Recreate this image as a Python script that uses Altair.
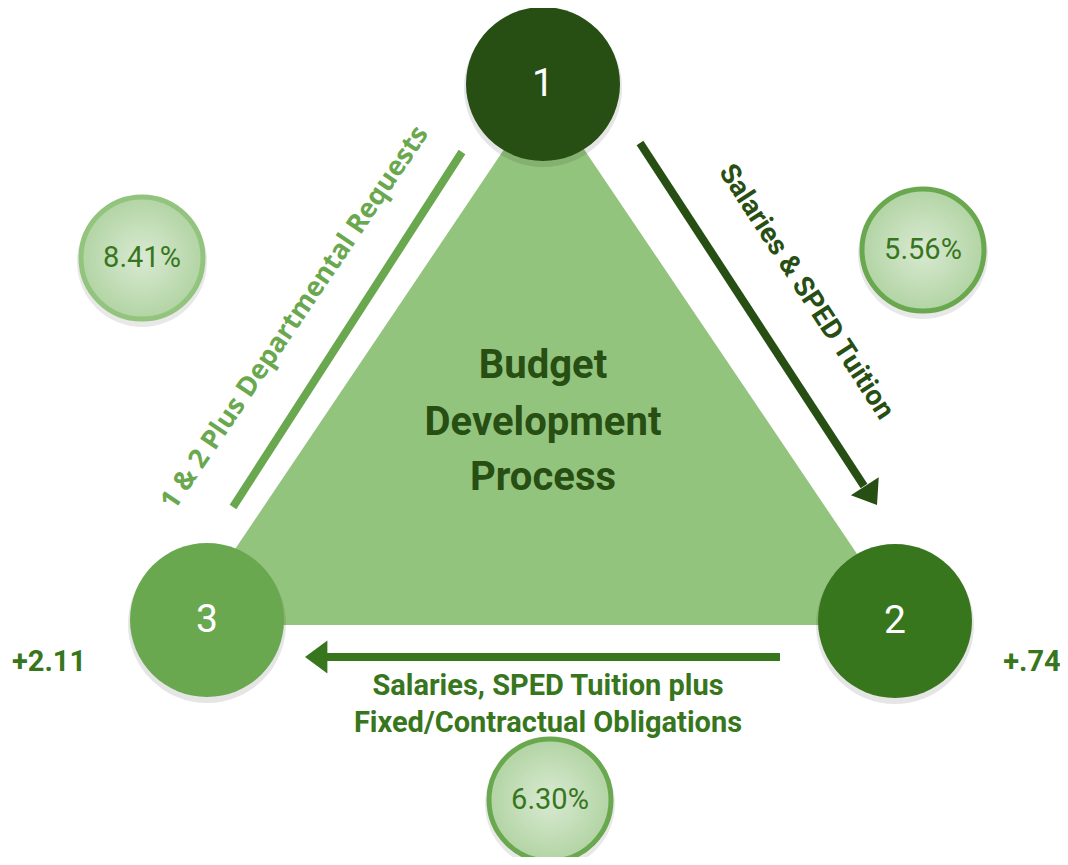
import altair as alt
import pandas as pd

# ---------------- content ----------------
node_labels = ["1", "2", "3"]
pct_labels = ["8.41%", "5.56%", "6.30%"]
delta_labels = ["+2.11", "+.74"]
title_lines = ["Budget", "Development", "Process"]
edge_12_label = "Salaries & SPED Tuition"
edge_23_lines = ["Salaries, SPED Tuition plus", "Fixed/Contractual Obligations"]
edge_31_label = "1 & 2 Plus Departmental Requests"

# ---------------- layout (page pixel coordinates) ----------------
node_x = [543, 895, 207]
node_y = [84, 621, 620]
node_colors = ["#274E13", "#38761D", "#6AA84F"]

pct_x = [142, 923, 550]
pct_y = [258, 250, 800]
pct_border = ["#93C47D", "#6AA84F", "#6AA84F"]

delta_x = [49, 1032]
delta_y = [662, 662]

tri_x = [184, 544, 905]
tri_y = [625, 90, 625]
tri_base = 625

title_x = 543
title_y = [378, 435, 490]

edge23_x = 548
edge23_y = [695, 732]

# lines: x, y, x2, y2, color
line_x = [462, 640, 780]
line_y = [152, 143, 657]
line_x2 = [233, 864, 325]
line_y2 = [507, 486, 657]
line_colors = ["#6AA84F", "#274E13", "#38761D"]

head_x = [877, 305]
head_y = [505, 657]
head_angle = [147, 270]
head_colors = ["#274E13", "#38761D"]

W, H = 1052, 849
xs = alt.Scale(domain=[8, 1060], nice=False, zero=False)
ys = alt.Scale(domain=[857, 8], nice=False, zero=False)

NODE_R = 77
PCT_R = 61


def X(f="x"):
    return alt.X(f"{f}:Q", scale=xs, axis=None)


def Y(f="y"):
    return alt.Y(f"{f}:Q", scale=ys, axis=None)


tri_df = pd.DataFrame({"x": tri_x, "y": tri_y, "y2": [tri_base] * 3})
triangle = alt.Chart(tri_df).mark_area(color="#93C47D", opacity=1, interpolate="linear").encode(
    x=X(), y=Y(), y2="y2:Q"
)

line_df = pd.DataFrame({"x": line_x, "y": line_y, "x2": line_x2, "y2": line_y2, "c": line_colors})
lines = alt.Chart(line_df).mark_rule(strokeWidth=8, strokeCap="butt").encode(
    x=X(), y=Y(), x2="x2:Q", y2="y2:Q", color=alt.Color("c:N", scale=None)
)

head_df = pd.DataFrame({"x": head_x, "y": head_y, "a": head_angle, "c": head_colors})
heads = alt.Chart(head_df).mark_point(
    shape="M0,0 L1,1.35 L-1,1.35 Z", filled=True, size=1100, opacity=1
).encode(
    x=X(), y=Y(), angle=alt.Angle("a:Q", scale=None), color=alt.Color("c:N", scale=None)
)

node_df = pd.DataFrame({"x": node_x, "y": node_y, "c": node_colors, "t": node_labels})
shadow_df = node_df.assign(y=[v + 4 for v in node_y])
node_shadow = alt.Chart(shadow_df).mark_circle(
    size=(2 * NODE_R + 4) ** 2, opacity=0.10, color="#000000"
).encode(x=X(), y=Y())
nodes = alt.Chart(node_df).mark_circle(size=(2 * NODE_R) ** 2, opacity=1).encode(
    x=X(), y=Y(), color=alt.Color("c:N", scale=None)
)
node_text = alt.Chart(node_df).mark_text(
    font="Roboto", fontSize=39, color="white", baseline="middle", align="center"
).encode(x=X(), y=Y(), text="t:N")

grad = alt.RadialGradient(
    gradient="radial",
    stops=[alt.GradientStop(color="#D9EAD2", offset=0), alt.GradientStop(color="#B2D4A4", offset=1)],
)
pct_df = pd.DataFrame({"x": pct_x, "y": pct_y, "c": pct_border, "t": pct_labels})
pct_shadow = alt.Chart(pct_df.assign(y=[v + 4 for v in pct_y])).mark_circle(
    size=(2 * PCT_R + 8) ** 2, opacity=0.09, color="#000000"
).encode(x=X(), y=Y())
pct_circles = alt.Chart(pct_df).mark_circle(
    size=(2 * PCT_R) ** 2, opacity=1, fill=grad, strokeWidth=5, strokeOpacity=1, fillOpacity=1
).encode(x=X(), y=Y(), stroke=alt.Stroke("c:N", scale=None))
pct_text = alt.Chart(pct_df).mark_text(
    font="Roboto", fontSize=29, color="#38761D", baseline="middle", align="center"
).encode(x=X(), y=Y(), text="t:N")

title_df = pd.DataFrame({"x": [title_x] * 3, "y": title_y, "t": title_lines})
title = alt.Chart(title_df).mark_text(
    font="Roboto", fontSize=40, fontWeight="bold", color="#274E13", baseline="alphabetic", align="center"
).encode(x=X(), y=Y(), text="t:N")

e23_df = pd.DataFrame({"x": [edge23_x] * 2, "y": edge23_y, "t": edge_23_lines})
e23 = alt.Chart(e23_df).mark_text(
    font="Roboto", fontSize=29, fontWeight="bold", color="#38761D", baseline="alphabetic", align="center"
).encode(x=X(), y=Y(), text="t:N")

e12_df = pd.DataFrame({"x": [806], "y": [292], "t": [edge_12_label]})
e12 = alt.Chart(e12_df).mark_text(
    font="Roboto", fontSize=28, fontWeight="bold", color="#274E13", baseline="middle", align="center", angle=57
).encode(x=X(), y=Y(), text="t:N")

e31_df = pd.DataFrame({"x": [295], "y": [318], "t": [edge_31_label]})
e31 = alt.Chart(e31_df).mark_text(
    font="Open Sans", fontSize=27, fontWeight="bold", color="#6AA84F", baseline="middle", align="center", angle=304
).encode(x=X(), y=Y(), text="t:N")

delta_df = pd.DataFrame({"x": delta_x, "y": delta_y, "t": delta_labels})
deltas = alt.Chart(delta_df).mark_text(
    font="Roboto", fontSize=29, fontWeight="bold", color="#38761D", baseline="middle", align="center"
).encode(x=X(), y=Y(), text="t:N")

chart = alt.layer(
    triangle, lines, heads, node_shadow, nodes, node_text,
    pct_shadow, pct_circles, pct_text, title, e23, e12, e31, deltas
).properties(
    width=W, height=H, autosize=alt.AutoSizeParams(type="none"), padding=0, background="white"
).configure_view(stroke=None)

chart.save("out.html", embed_options={"renderer": "svg", "actions": False})
